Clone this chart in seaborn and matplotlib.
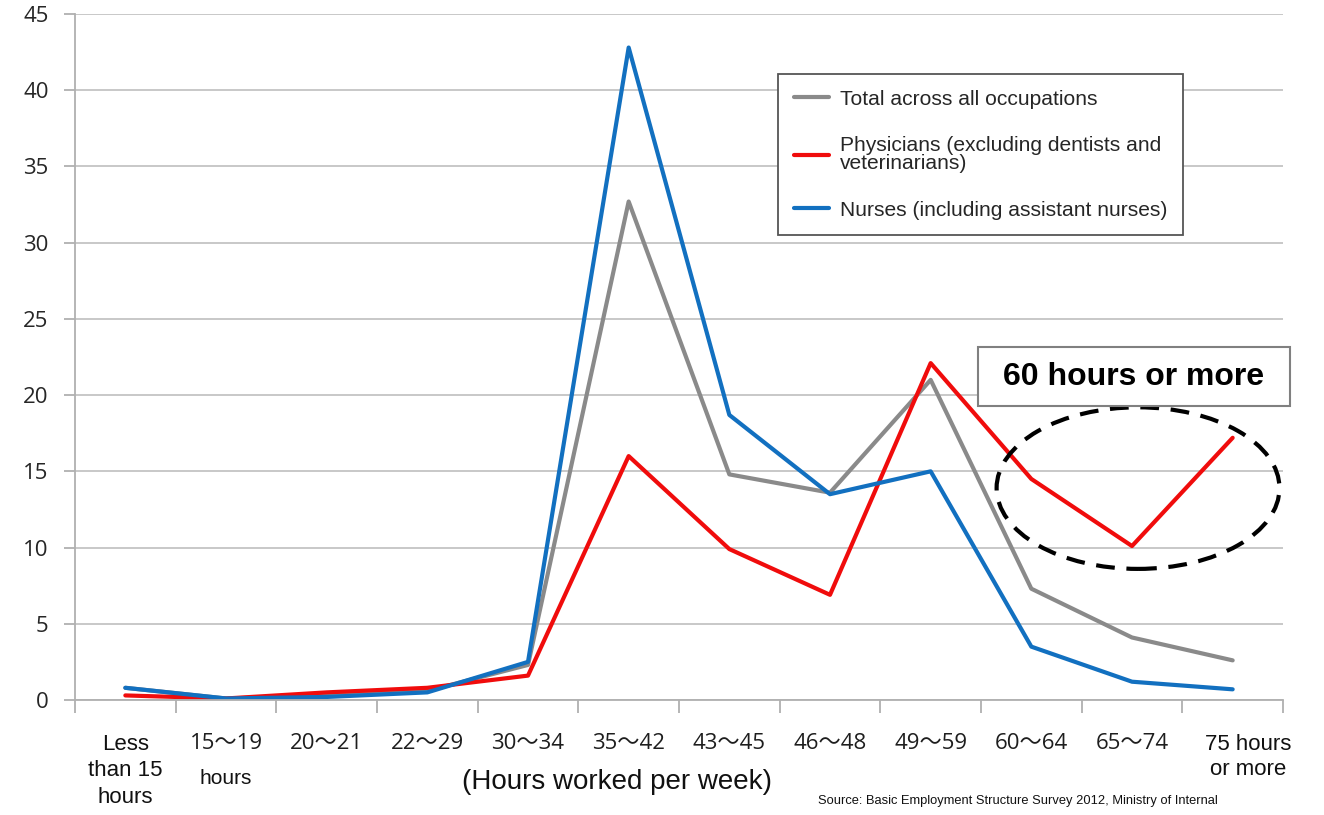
import pandas as pd
import seaborn as sns
import matplotlib.pyplot as plt
import matplotlib.transforms as mtransforms
from matplotlib.patches import Ellipse, Rectangle

# --- Data (percent of workers by weekly hours) ---
hour_bands = ['Less than 15 hours', '15〜19', '20〜21', '22〜29', '30〜34', '35〜42',
              '43〜45', '46〜48', '49〜59', '60〜64', '65〜74', '75 hours or more']
total_all = [0.8, 0.1, 0.3, 0.6, 2.3, 32.7, 14.8, 13.6, 21.0, 7.3, 4.1, 2.6]
physicians = [0.3, 0.1, 0.5, 0.8, 1.6, 16.0, 9.9, 6.9, 22.1, 14.5, 10.1, 17.2]
nurses = [0.8, 0.1, 0.2, 0.5, 2.5, 42.8, 18.7, 13.5, 15.0, 3.5, 1.2, 0.7]

series_names = ['Total across all occupations',
                'Physicians (excluding dentists and\nveterinarians)',
                'Nurses (including assistant nurses)']
series_colors = ['#8a8a8a', '#f00c0c', '#1270c0']

df = pd.concat([
    pd.DataFrame({'pos': range(len(hour_bands)), 'value': vals, 'group': name})
    for name, vals in zip(series_names, [total_all, physicians, nurses])
])

# --- Style ---
sns.set_theme(style='white')
plt.rcParams['font.family'] = ['Liberation Sans', 'DejaVu Sans']
tick_font = ['Open Sans', 'Noto Sans CJK JP', 'DejaVu Sans']

W, H = 1324, 815
fig = plt.figure(figsize=(W / 100, H / 100), dpi=100)
ax = fig.add_axes([75 / W, 1 - 700 / H, (1283 - 75) / W, (700 - 14) / H])

sns.lineplot(data=df, x='pos', y='value', hue='group', hue_order=series_names,
             palette=series_colors, linewidth=3, ax=ax, legend=True)

ax.set_xlim(-0.5, len(hour_bands) - 0.5)
ax.set_ylim(0, 45)
ax.set_yticks(range(0, 46, 5))
ax.yaxis.grid(True, color='#c4c4c4', linewidth=1.3)
ax.set_axisbelow(True)
for s in ['top', 'right']:
    ax.spines[s].set_visible(False)
for s in ['left', 'bottom']:
    ax.spines[s].set_color('#b0b0b0')
    ax.spines[s].set_linewidth(1.3)
ax.set_xlabel('')
ax.set_ylabel('')

# y ticks
ax.tick_params(axis='y', left=True, length=8, width=1.3, color='#b0b0b0',
               pad=11, labelsize=16, labelcolor='#262626')
for lab in ax.get_yticklabels():
    lab.set_fontfamily(tick_font)

# x: boundary ticks as minor, labels at category centers
ax.set_xticks([i - 0.5 for i in range(len(hour_bands) + 1)], minor=True)
ax.set_xticks(range(len(hour_bands)))
ax.set_xticklabels([''] + hour_bands[1:-1] + [''])
ax.tick_params(axis='x', which='minor', bottom=True, length=9, width=1.3, color='#b0b0b0')
ax.tick_params(axis='x', which='major', bottom=False, length=0, pad=24,
               labelsize=16, labelcolor='#1e1e1e')
for lab in ax.get_xticklabels():
    lab.set_fontfamily(tick_font)

# irregular x labels
trans = mtransforms.blended_transform_factory(ax.transData, fig.transFigure)
ax.text(0, 1 - 771 / H, 'Less\nthan 15\nhours', transform=trans, ha='center', va='center',
        fontsize=16, linespacing=1.35, color='#111111')
ax.text(1, 1 - 778 / H, 'hours', transform=trans, ha='center', va='center',
        fontsize=15, color='#111111')
ax.text(11.15, 1 - 757 / H, '75 hours\nor more', transform=trans, ha='center', va='center',
        fontsize=16, linespacing=1.25, color='#111111')

fig.text(617 / W, 1 - 782 / H, '(Hours worked per week)', ha='center', va='center',
         fontsize=20, color='#111111')
fig.text(818 / W, 1 - 801 / H,
         'Source: Basic Employment Structure Survey 2012, Ministry of Internal',
         ha='left', va='center', fontsize=9.3, color='#111111')

# legend
leg = ax.legend(loc='upper left', bbox_to_anchor=(778 / W, 1 - 74 / H),
                bbox_transform=fig.transFigure, frameon=True, fancybox=False,
                framealpha=1, edgecolor='#555555', fontsize=15.1, handlelength=1.7,
                handletextpad=0.5, labelspacing=1.3, borderpad=0.75, borderaxespad=0)
leg.get_frame().set_linewidth(1.3)
for txt in leg.get_texts():
    txt.set_linespacing(0.95)

# highlight: 60 hours or more
ax.add_patch(Ellipse((10.06, 13.9), 2.81, 10.6, fill=False, edgecolor='black',
                     linewidth=3, linestyle=(0, (4.5, 2.8)), zorder=5))
fig.patches.append(Rectangle((978 / W, 1 - 406 / H), (1290 - 978) / W, (406 - 347) / H,
                             transform=fig.transFigure, facecolor='white',
                             edgecolor='#808080', linewidth=1.5, zorder=6))
fig.text(1134 / W, 1 - 377 / H, '60 hours or more', ha='center', va='center',
         fontsize=23, fontweight='bold', color='black', zorder=7)

fig.savefig('out.png', dpi=100)
